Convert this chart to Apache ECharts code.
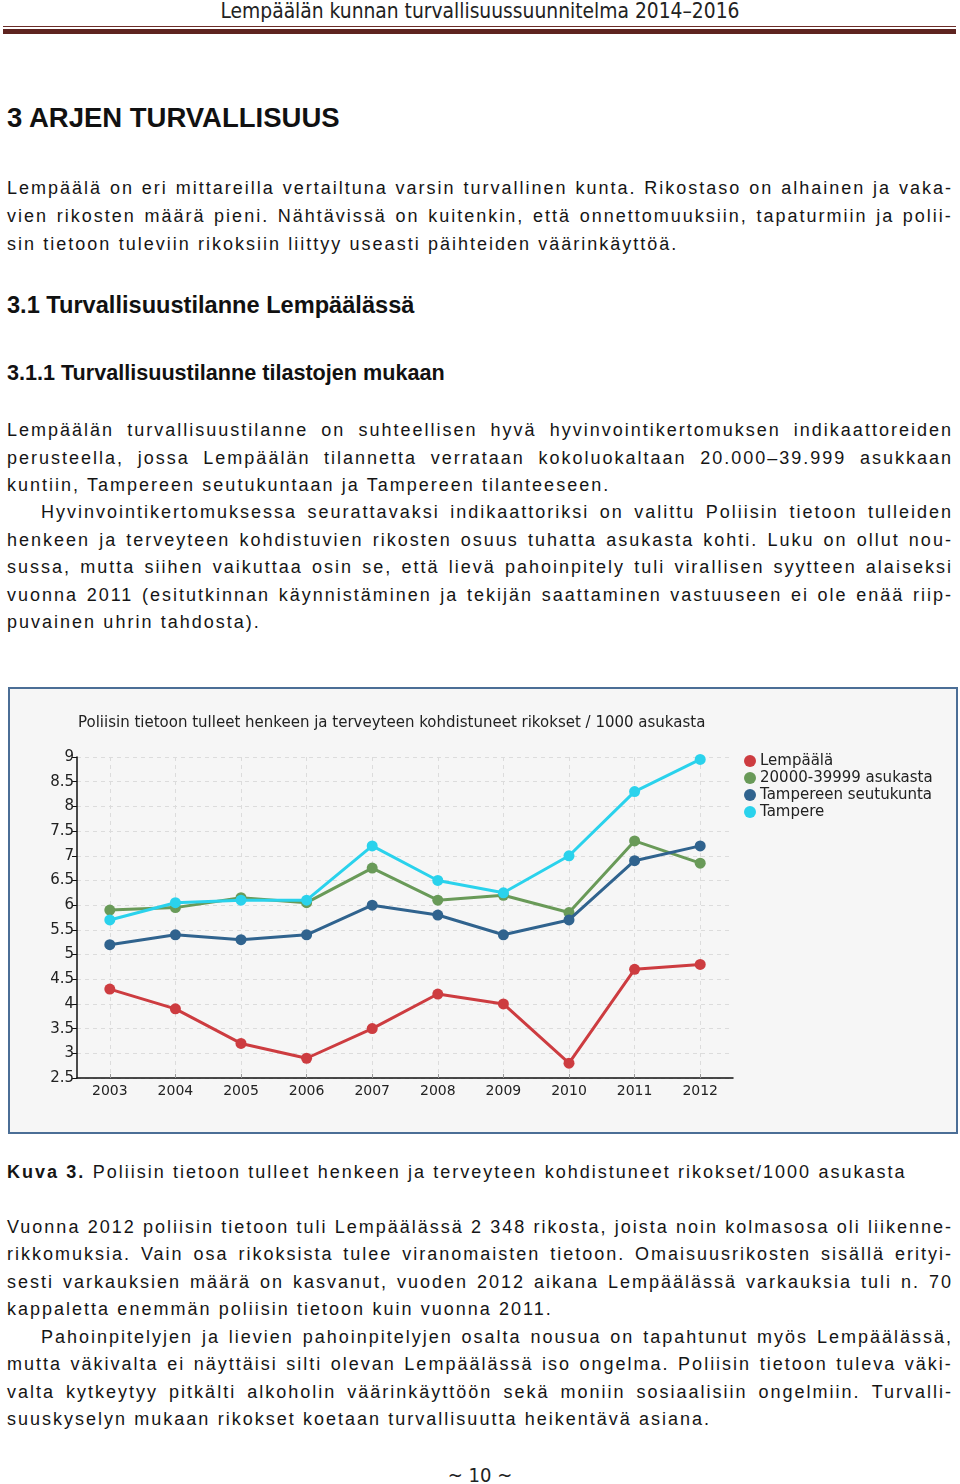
<!DOCTYPE html>
<html><head><meta charset="utf-8">
<script src="https://cdn.jsdelivr.net/npm/echarts@6/dist/echarts.min.js"></script>
<style>
html,body{margin:0;padding:0;}
body{width:960px;height:1484px;background:#fff;position:relative;overflow:hidden;font-family:"Liberation Sans",Arial,sans-serif;color:#151515;}
.hdr{position:absolute;left:0;width:960px;top:-1px;text-align:center;font-family:"Liberation Sans Narrow","DejaVu Sans Condensed",sans-serif;font-size:20.8px;line-height:24px;color:#222;}
.bar1{position:absolute;left:3px;width:953px;top:26px;height:1px;background:#6b2d28;}
.bar2{position:absolute;left:3px;width:953px;top:29px;height:5px;background:#5e2420;}
.h{position:absolute;left:7px;font-family:"Liberation Sans",Arial,sans-serif;font-weight:bold;color:#111;white-space:nowrap;}
.l{position:absolute;height:28px;line-height:28px;font-size:18px;white-space:nowrap;letter-spacing:2px;word-spacing:0.3px;}
.j{display:flex;justify-content:space-between;}
.j span{letter-spacing:2px;}
#box{position:absolute;left:8px;top:687px;width:950px;height:447px;box-sizing:border-box;border:2px solid #4b6e96;box-shadow:inset 0 0 0 1px #a9bcd2;}
#chart{position:absolute;left:10px;top:689px;width:946px;height:443px;}
.pn{position:absolute;left:0;width:960px;top:1463px;text-align:center;font-family:"Liberation Sans Narrow","DejaVu Sans Condensed",sans-serif;font-size:20px;line-height:24px;color:#222;}
</style>
</head>
<body>
<div class="hdr">Lempäälän kunnan turvallisuussuunnitelma 2014–2016</div>
<div class="bar1"></div><div class="bar2"></div>
<div class="h" style="top:101px;font-size:27.5px;line-height:34px;">3 ARJEN TURVALLISUUS</div>
<div class="h" style="top:290px;font-size:23.6px;line-height:30px;">3.1 Turvallisuustilanne Lempäälässä</div>
<div class="h" style="top:359px;font-size:21.6px;line-height:28px;">3.1.1 Turvallisuustilanne tilastojen mukaan</div>
<div id="text"></div>
<div id="box"></div>
<div id="chart"></div>
<div class="pn">~ 10 ~</div>
<script>
// ---- chart data ----
const years = ['2003','2004','2005','2006','2007','2008','2009','2010','2011','2012'];
const seriesNames = ['Lempäälä','20000-39999 asukasta','Tampereen seutukunta','Tampere'];
const lempaala = [4.3, 3.9, 3.2, 2.9, 3.5, 4.2, 4.0, 2.8, 4.7, 4.8];
const kunnat20000 = [5.9, 5.95, 6.15, 6.05, 6.75, 6.1, 6.2, 5.85, 7.3, 6.85];
const seutukunta = [5.2, 5.4, 5.3, 5.4, 6.0, 5.8, 5.4, 5.7, 6.9, 7.2];
const tampere = [5.7, 6.05, 6.1, 6.1, 7.2, 6.5, 6.25, 7.0, 8.3, 8.95];
const yTicks = ['2.5','3','3.5','4','4.5','5','5.5','6','6.5','7','7.5','8','8.5','9'];
const colors = ['#cd3c40','#699a58','#30638e','#2ad2ec'];

// ---- page text lines: [y-center, x, text, justified] ----
const lines = [
 [188,7,'Lempäälä on eri mittareilla vertailtuna varsin turvallinen kunta. Rikostaso on alhainen ja vaka-',1],
 [216,7,'vien rikosten määrä pieni. Nähtävissä on kuitenkin, että onnettomuuksiin, tapaturmiin ja polii-',1],
 [244,7,'sin tietoon tuleviin rikoksiin liittyy useasti päihteiden väärinkäyttöä.',0],
 [430,7,'Lempäälän turvallisuustilanne on suhteellisen hyvä hyvinvointikertomuksen indikaattoreiden',1],
 [458,7,'perusteella, jossa Lempäälän tilannetta verrataan kokoluokaltaan 20.000–39.999 asukkaan',1],
 [485,7,'kuntiin, Tampereen seutukuntaan ja Tampereen tilanteeseen.',0],
 [512,41,'Hyvinvointikertomuksessa seurattavaksi indikaattoriksi on valittu Poliisin tietoon tulleiden',1],
 [540,7,'henkeen ja terveyteen kohdistuvien rikosten osuus tuhatta asukasta kohti. Luku on ollut nou-',1],
 [567,7,'sussa, mutta siihen vaikuttaa osin se, että lievä pahoinpitely tuli virallisen syytteen alaiseksi',1],
 [595,7,'vuonna 2011 (esitutkinnan käynnistäminen ja tekijän saattaminen vastuuseen ei ole enää riip-',1],
 [622,7,'puvainen uhrin tahdosta).',0],
 [1172,7,'<b>Kuva 3.</b> Poliisin tietoon tulleet henkeen ja terveyteen kohdistuneet rikokset/1000 asukasta',0],
 [1227,7,'Vuonna 2012 poliisin tietoon tuli Lempäälässä 2 348 rikosta, joista noin kolmasosa oli liikenne-',1],
 [1254,7,'rikkomuksia. Vain osa rikoksista tulee viranomaisten tietoon. Omaisuusrikosten sisällä erityi-',1],
 [1282,7,'sesti varkauksien määrä on kasvanut, vuoden 2012 aikana Lempäälässä varkauksia tuli n. 70',1],
 [1309,7,'kappaletta enemmän poliisin tietoon kuin vuonna 2011.',0],
 [1337,41,'Pahoinpitelyjen ja lievien pahoinpitelyjen osalta nousua on tapahtunut myös Lempäälässä,',1],
 [1364,7,'mutta väkivalta ei näyttäisi silti olevan Lempäälässä iso ongelma. Poliisin tietoon tuleva väki-',1],
 [1392,7,'valta kytkeytyy pitkälti alkoholin väärinkäyttöön sekä moniin sosiaalisiin ongelmiin. Turvalli-',1],
 [1419,7,'suuskyselyn mukaan rikokset koetaan turvallisuutta heikentävä asiana.',0]
];
const tc = document.getElementById('text');
lines.forEach(([y,x,t,j])=>{
  const d = document.createElement('div');
  d.className = 'l' + (j ? ' j' : '');
  d.style.top = (y-14)+'px';
  d.style.left = x+'px';
  if (j) {
    d.style.width = (953-x)+'px';
    d.innerHTML = t.split(' ').map(w=>'<span>'+w+'</span>').join('');
  } else {
    d.innerHTML = t;
  }
  tc.appendChild(d);
});

// ---- chart ----
const chart = echarts.init(document.getElementById('chart'));
const allData = [lempaala, kunnat20000, seutukunta, tampere];
const ff = '"DejaVu Sans", Verdana, sans-serif';
chart.setOption({
  backgroundColor: '#f6f6f6',
  animation: false,
  textStyle: {fontFamily: ff},
  title: {
    text: 'Poliisin tietoon tulleet henkeen ja terveyteen kohdistuneet rikokset / 1000 asukasta',
    left: 68, top: 27, padding: 0,
    textStyle: {fontSize: 15, fontWeight: 'normal', color: '#222', fontFamily: ff}
  },
  legend: {
    orient: 'vertical', left: 734, top: 64, padding: 0,
    itemGap: 1, itemWidth: 12, itemHeight: 12, icon: 'circle',
    textStyle: {fontSize: 15, color: '#222', lineHeight: 16, padding: [0,0,0,-1]},
    data: seriesNames
  },
  grid: {left: 67, top: 68, width: 656, height: 321, containLabel: false},
  xAxis: {
    type: 'category', data: years, boundaryGap: true,
    axisLine: {lineStyle: {color: '#111', width: 1.5}},
    axisTick: {show: true, alignWithLabel: true, inside: true, length: 4, lineStyle: {color: '#999'}},
    axisLabel: {fontSize: 14, color: '#222', margin: 6},
    splitLine: {show: true, alignWithLabel: true, lineStyle: {color: '#dcdcdc', type: [4,4]}}
  },
  yAxis: {
    type: 'value', min: 2.5, max: 9, interval: 0.5,
    axisLine: {show: true, lineStyle: {color: '#111', width: 1.5}},
    axisTick: {show: true, length: 5, lineStyle: {color: '#111'}},
    axisLabel: {fontSize: 15, color: '#222', margin: 3, formatter: v => yTicks.includes(String(v)) ? String(v) : ''},
    splitLine: {show: true, lineStyle: {color: '#dcdcdc', type: [4,4]}}
  },
  series: seriesNames.map((n,i)=>({
    name: n, type: 'line', data: allData[i],
    symbol: 'circle', symbolSize: 11,
    lineStyle: {width: 3, color: colors[i]},
    itemStyle: {color: colors[i]},
    z: 2 + i
  }))
});
</script>
</body></html>
